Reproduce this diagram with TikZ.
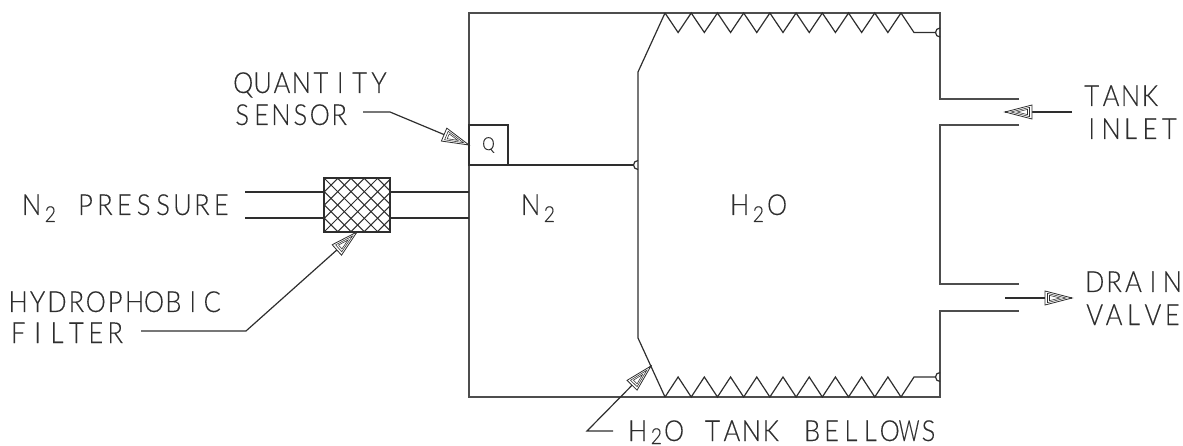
\documentclass[tikz,border=0pt]{standalone}
\usepackage{fontspec}
\usepackage{graphicx}
\usetikzlibrary{calc}
\newfontfamily\lblfont[FakeStretch=0.88,FakeBold=0.25]{Lato Light}
\definecolor{ink}{HTML}{2E2E2E}
\newlength{\pitchw}\setlength{\pitchw}{19.4pt}
\def\pitchnext#1{\ifx#1\relax\else\makebox[\pitchw]{#1}\expandafter\pitchnext\fi}
\newcommand{\pitched}[1]{\pitchnext#1\relax}
\newcommand{\subtwo}[1][-7pt]{\raisebox{#1}{\makebox[18pt]{\fontsize{22}{22}\selectfont 2}}}
\tikzset{
  line/.style={draw=ink,line width=1.2pt},
  wall/.style={draw=ink!85!white,line width=1.4pt},
  lbl/.style={inner sep=0pt,outer sep=0pt,anchor=base west,text=ink,font=\lblfont\fontsize{29}{29}\selectfont},
  hd/.pic={
    \draw[ink,line width=.8pt,fill=white] (0,0) -- (-27,-7) -- (-27,7) -- cycle;
    \draw[ink,line width=.55pt] (-6,0) -- (-24.5,-4.6) -- (-24.5,4.6) -- cycle;
    \draw[ink,line width=.55pt] (-12,0) -- (-22.5,-2.6) -- (-22.5,2.6) -- cycle;
  }
}
\begin{document}
\begin{tikzpicture}[x=1pt,y=-1pt]
\useasboundingbox (0,0) rectangle (1183,446);
% named points
\coordinate (tl) at (469,13); \coordinate (tr) at (940,13);
\coordinate (bl) at (469,397); \coordinate (br) at (940,397);
\coordinate (inU) at (940,99); \coordinate (inUe) at (1019,99);
\coordinate (inL) at (940,125); \coordinate (inLe) at (1019,125);
\coordinate (drU) at (940,284); \coordinate (drUe) at (1019,284);
\coordinate (drL) at (940,311); \coordinate (drLe) at (1019,311);
% tank walls
\draw[wall] (inUe) -- (inU) -- (tr) -- (tl) -- (bl) -- (br) -- (drL) -- (drLe);
\draw[wall] (inLe) -- (inL) -- (drU) -- (drUe);
% bellows plate
\draw[line] (665,13) -- (638,72) -- (638,338) -- (665,397);
% top bellows
\draw[line] (665,13)
  \foreach \i in {0,...,8} { -- ({665+26.22*\i+13.11},32.5) -- ({665+26.22*(\i+1)},13) }
  -- (914,32.5) -- (935.5,32.5);
\draw[line] (940,28) arc[start angle=270,end angle=90,radius=4.5];
% bottom bellows
\draw[line] (665,397)
  \foreach \i in {0,...,8} { -- ({665+26.22*\i+13.11},377) -- ({665+26.22*(\i+1)},397) }
  -- (914,377) -- (935.5,377);
\draw[line] (940,372.5) arc[start angle=270,end angle=90,radius=4.5];
% quantity sensor
\node[draw=ink,line width=1.2pt,minimum width=39pt,minimum height=40pt,inner sep=0pt,outer sep=0pt,anchor=north west,
  text=ink,font=\lblfont\fontsize{18}{18}\selectfont] (q) at (469,125) {Q};
\draw[line] (q.south east) -- (633.5,165);
\draw[line] (638,160.5) arc[start angle=270,end angle=90,radius=4.5];
% filter
\coordinate (fA) at (245,192); \coordinate (fB) at (245,218);
\coordinate (fC) at (469,192); \coordinate (fD) at (469,218);
\node[minimum width=66pt,minimum height=54pt,inner sep=0pt,outer sep=0pt,anchor=north west] (filter) at (324,178) {};
\draw[line] (fA) -- (fA -| filter.west);
\draw[line] (fB) -- (fB -| filter.west);
\draw[line] (fC -| filter.east) -- (fC);
\draw[line] (fD -| filter.east) -- (fD);
\begin{scope}
  \clip (filter.north west) rectangle (filter.south east);
  \foreach \k in {-5,...,10} {
    \draw[ink,line width=1pt] ({324+13.3*\k},178) -- ({324+13.3*\k+54},232);
    \draw[ink,line width=1pt] ({324+13.3*\k},232) -- ({324+13.3*\k+54},178);
  }
\end{scope}
\draw[draw=ink,line width=1.4pt] (filter.north west) rectangle (filter.south east);
% labels
\node[lbl] (lq1) at (233.5,93) {\pitched{QUANTITY}};
\node[lbl] (lq2) at (232.5,125) {\pitched{SENSOR}};
\node[lbl] (lp) at (22,215) {\pitched{N}\subtwo\hspace{16.4pt}\pitched{PRESSURE}};
\node[lbl] (lh1) at (8.5,312) {\pitched{HYDROPHOBIC}};
\node[lbl] (lh2) at (8.5,343) {\pitched{FILTER}};
\node[lbl] (ln) at (521,215) {\pitched{N}\subtwo};
\node[lbl] (lw) at (730,215) {\pitched{H}\subtwo\pitched{O}};
\node[lbl] (lb) at (628,441) {\pitched{H}\subtwo[-3pt]\hspace{-1pt}\pitched{O}\hspace{19pt}\pitched{TANK}\hspace{22pt}\pitched{BELLO}\makebox[\pitchw]{\scalebox{.8}[1]{W}}\pitched{S}};
\node[lbl] (lt1) at (1082,106) {\pitched{TANK}};
\node[lbl] (lt2) at (1082,139) {\pitched{INLET}};
\node[lbl] (ld1) at (1085,292) {\pitched{DRAIN}};
\node[lbl] (ld2) at (1085,325) {\pitched{VALVE}};
% leaders
\coordinate (q1) at (363,112); \coordinate (q2) at (390,112); \coordinate (qt) at (469,145);
\draw[line] (q1) -- (q2) -- (qt) pic[pos=1,sloped,allow upside down]{hd};
\coordinate (h1) at (141,331); \coordinate (h2) at (246,331); \coordinate (ht) at (filter.south);
\draw[line] (h1) -- (h2) -- (ht) pic[pos=1,sloped,allow upside down]{hd};
\coordinate (b1) at (613,431); \coordinate (b2) at (587,431); \coordinate (bt) at (651,366);
\draw[line] (b1) -- (b2) -- (bt) pic[pos=1,sloped,allow upside down]{hd};
\coordinate (i1) at (1072,112); \coordinate (it) at (1005,112);
\draw[line] (i1) -- (it) pic[pos=1,sloped,allow upside down]{hd};
\coordinate (d1) at (1005,298); \coordinate (dt) at (1072,298);
\draw[line] (d1) -- (dt) pic[pos=1,sloped,allow upside down]{hd};
\end{tikzpicture}
\end{document}
